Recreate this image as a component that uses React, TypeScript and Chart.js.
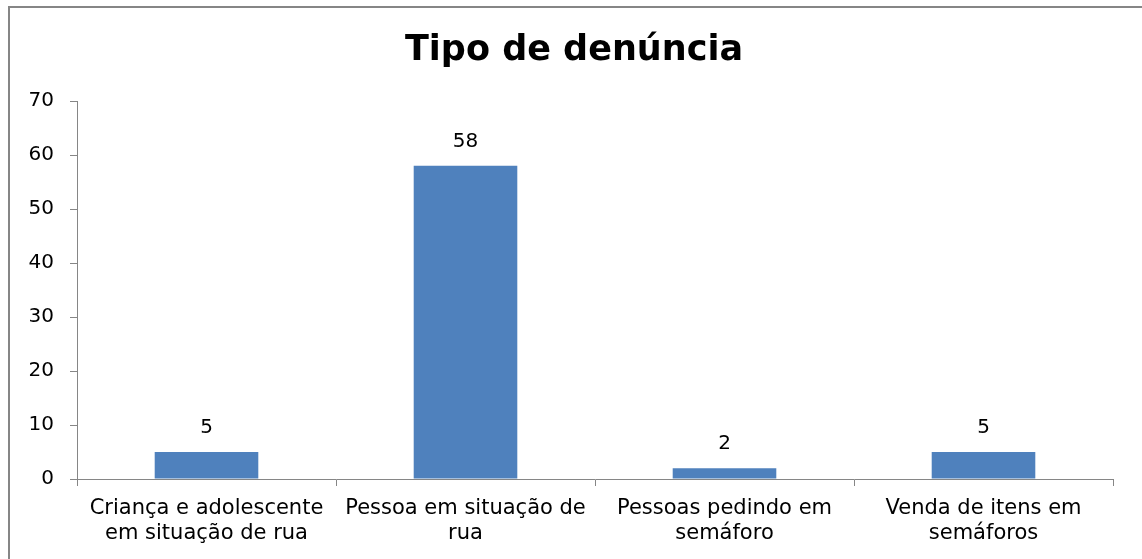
import React, { useEffect, useRef } from "react";
import { Chart, registerables } from "chart.js";

Chart.register(...registerables);

const TITLE = "Tipo de denúncia";
const categories: string[][] = [
  ["Criança e adolescente", "em situação de rua"],
  ["Pessoa em situação de", "rua"],
  ["Pessoas pedindo em", "semáforo"],
  ["Venda de itens em", "semáforos"],
];
const values: number[] = [5, 58, 2, 5];
const yTicks = { min: 0, max: 70, step: 10 };

const FONT = "'DejaVu Sans', sans-serif";
const AXIS_GRAY = "#868686";
const BAR_BLUE = "#4F81BD";

const valueLabels = {
  id: "valueLabels",
  afterDatasetsDraw(chart: any) {
    const ctx = chart.ctx;
    const meta = chart.getDatasetMeta(0);
    ctx.save();
    ctx.fillStyle = "#000";
    ctx.font = `20px ${FONT}`;
    ctx.textAlign = "center";
    ctx.textBaseline = "middle";
    meta.data.forEach((bar: any, i: number) => {
      ctx.fillText(String(values[i]), bar.x, bar.y - 24);
    });
    ctx.restore();
  },
};

const chartTitle = {
  id: "chartTitle",
  afterDraw(chart: any) {
    const ctx = chart.ctx;
    ctx.save();
    ctx.fillStyle = "#000";
    ctx.font = `bold 35px ${FONT}`;
    ctx.textAlign = "center";
    ctx.textBaseline = "middle";
    ctx.fillText(TITLE, 564, 43);
    ctx.restore();
  },
};

export default function App() {
  const ref = useRef<HTMLCanvasElement | null>(null);
  useEffect(() => {
    if (!ref.current) return;
    const chart = new Chart(ref.current, {
      type: "bar",
      data: {
        labels: categories,
        datasets: [
          {
            data: values,
            backgroundColor: BAR_BLUE,
            barPercentage: 0.4,
            categoryPercentage: 1,
          },
        ],
      },
      options: {
        animation: false,
        responsive: false,
        layout: { padding: { left: 0, right: 25, top: 93, bottom: 0 } },
        plugins: {
          legend: { display: false },
          tooltip: { enabled: false },
          title: { display: false },
        },
        scales: {
          x: {
            grid: {
              drawOnChartArea: false,
              drawTicks: true,
              tickLength: 7,
              color: AXIS_GRAY,
              offset: true,
            },
            border: { color: AXIS_GRAY, width: 1 },
            ticks: {
              color: "#000",
              font: { family: FONT, size: 21, lineHeight: 1.2 },
              padding: 10,
              maxRotation: 0,
              autoSkip: false,
            },
            afterFit: (s: any) => {
              s.height = 78;
            },
          },
          y: {
            min: yTicks.min,
            max: yTicks.max,
            grid: {
              drawOnChartArea: false,
              drawTicks: true,
              tickLength: 7,
              color: AXIS_GRAY,
            },
            border: { color: AXIS_GRAY, width: 1 },
            ticks: {
              stepSize: yTicks.step,
              color: "#000",
              font: { family: FONT, size: 20 },
              padding: 16,
            },
            afterFit: (s: any) => {
              s.width = 67;
            },
          },
        },
      },
      plugins: [valueLabels, chartTitle],
    });
    return () => chart.destroy();
  }, []);

  return (
    <div
      style={{
        position: "fixed",
        left: 0,
        top: 0,
        width: 1142,
        height: 559,
        overflow: "hidden",
        background: "#fff",
      }}
    >
      <div
        style={{
          position: "absolute",
          left: 8,
          top: 6,
          width: 1200,
          height: 620,
          borderTop: `2px solid ${AXIS_GRAY}`,
          borderLeft: `2px solid ${AXIS_GRAY}`,
        }}
      />
      <canvas
        ref={ref}
        width={1128}
        height={549}
        style={{ position: "absolute", left: 10, top: 8, width: 1128, height: 549 }}
      />
    </div>
  );
}
